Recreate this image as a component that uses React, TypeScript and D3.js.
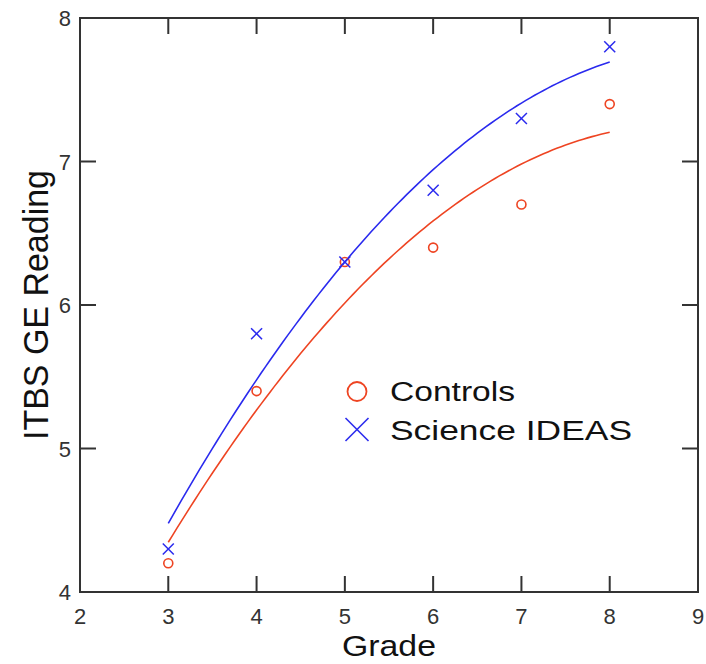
import React from "react";
import * as d3 from "d3";

const grades = [3, 4, 5, 6, 7, 8];
const controls = [4.2, 5.4, 6.3, 6.4, 6.7, 7.4];
const scienceIdeas = [4.3, 5.8, 6.3, 6.8, 7.3, 7.8];
const xTicks = [2, 3, 4, 5, 6, 7, 8, 9];
const yTicks = [4, 5, 6, 7, 8];
const seriesNames = ["Controls", "Science IDEAS"];

const W = 706;
const H = 664;
const RED = "#ee4422";
const BLUE = "#2a2aee";
const FRAME = "#333";
const FONT = "'Liberation Sans', Arial, Helvetica, sans-serif";

// least-squares quadratic fit y = a + b x + c x^2
function quadFit(xs: number[], ys: number[]) {
  const n = xs.length;
  let s1 = 0, s2 = 0, s3 = 0, s4 = 0, sy = 0, sxy = 0, sx2y = 0;
  for (let i = 0; i < n; i++) {
    const x = xs[i], y = ys[i];
    s1 += x; s2 += x * x; s3 += x ** 3; s4 += x ** 4;
    sy += y; sxy += x * y; sx2y += x * x * y;
  }
  const M = [
    [n, s1, s2, sy],
    [s1, s2, s3, sxy],
    [s2, s3, s4, sx2y],
  ];
  for (let i = 0; i < 3; i++) {
    for (let k = i + 1; k < 3; k++) {
      const f = M[k][i] / M[i][i];
      for (let j = i; j < 4; j++) M[k][j] -= f * M[i][j];
    }
  }
  const r = [0, 0, 0];
  for (let i = 2; i >= 0; i--) {
    let s = M[i][3];
    for (let j = i + 1; j < 3; j++) s -= M[i][j] * r[j];
    r[i] = s / M[i][i];
  }
  return (x: number) => r[0] + r[1] * x + r[2] * x * x;
}

export default function App() {
  const x = d3.scaleLinear().domain([2, 9]).range([80, 698]);
  const y = d3.scaleLinear().domain([4, 8]).range([592, 18]);
  const tickLen = 16;

  const fitC = quadFit(grades, controls);
  const fitS = quadFit(grades, scienceIdeas);
  const xs = d3.range(0, 101).map((i) => 3 + (5 * i) / 100);
  const pathC = d3.line<number>().x((d) => x(d)).y((d) => y(fitC(d)))(xs) || "";
  const pathS = d3.line<number>().x((d) => x(d)).y((d) => y(fitS(d)))(xs) || "";

  const innerX = xTicks.filter((t) => t > 2 && t < 9);
  const innerY = yTicks.filter((t) => t > 4 && t < 8);

  const cross = (cx: number, cy: number, s: number, color: string, w: number, key?: string) => (
    <g key={key} stroke={color} strokeWidth={w}>
      <line x1={cx - s} y1={cy - s} x2={cx + s} y2={cy + s} />
      <line x1={cx - s} y1={cy + s} x2={cx + s} y2={cy - s} />
    </g>
  );

  return (
    <svg
      width={W}
      height={H}
      style={{ position: "absolute", left: 0, top: 0, background: "#fff" }}
      fontFamily={FONT}
    >
      <rect width={W} height={H} fill="#fff" />
      {/* frame */}
      <rect
        x={x(2)}
        y={y(8)}
        width={x(9) - x(2)}
        height={y(4) - y(8)}
        fill="none"
        stroke={FRAME}
        strokeWidth={2}
      />
      {/* ticks */}
      {innerX.map((t) => (
        <g key={"xt" + t} stroke={FRAME} strokeWidth={2}>
          <line x1={x(t)} x2={x(t)} y1={y(4)} y2={y(4) - tickLen} />
          <line x1={x(t)} x2={x(t)} y1={y(8)} y2={y(8) + tickLen} />
        </g>
      ))}
      {innerY.map((t) => (
        <g key={"yt" + t} stroke={FRAME} strokeWidth={2}>
          <line x1={x(2)} x2={x(2) + tickLen} y1={y(t)} y2={y(t)} />
          <line x1={x(9)} x2={x(9) - tickLen} y1={y(t)} y2={y(t)} />
        </g>
      ))}
      {/* tick labels */}
      {xTicks.map((t) => (
        <text key={"xl" + t} x={x(t)} y={624} textAnchor="middle" fontSize={22} fill="#333">
          {t}
        </text>
      ))}
      {yTicks.map((t) => (
        <text key={"yl" + t} x={71} y={y(t) + 8} textAnchor="end" fontSize={22} fill="#333">
          {t}
        </text>
      ))}
      {/* axis titles */}
      <text x={389} y={656} textAnchor="middle" fontSize={29} fill="#111" textLength={94} lengthAdjust="spacingAndGlyphs">
        Grade
      </text>
      <text
        transform={`translate(48,305) rotate(-90)`}
        textAnchor="middle"
        fontSize={35}
        fill="#111"
        textLength={270}
        lengthAdjust="spacingAndGlyphs"
      >
        ITBS GE Reading
      </text>
      {/* fit curves */}
      <path d={pathC} fill="none" stroke={RED} strokeWidth={1.6} />
      <path d={pathS} fill="none" stroke={BLUE} strokeWidth={1.6} />
      {/* points */}
      {grades.map((g, i) => (
        <circle key={"c" + i} cx={x(g)} cy={y(controls[i])} r={4.5} fill="none" stroke={RED} strokeWidth={1.6} />
      ))}
      {grades.map((g, i) => cross(x(g), y(scienceIdeas[i]), 5.5, BLUE, 1.5, "s" + i))}
      {/* legend */}
      <circle cx={357} cy={391.5} r={9.5} fill="none" stroke={RED} strokeWidth={1.8} />
      <text x={390} y={401} fontSize={27} fill="#111" textLength={125} lengthAdjust="spacingAndGlyphs">
        {seriesNames[0]}
      </text>
      {cross(357, 429.5, 11.5, BLUE, 1.6)}
      <text x={390} y={440} fontSize={28} fill="#111" textLength={242} lengthAdjust="spacingAndGlyphs">
        {seriesNames[1]}
      </text>
    </svg>
  );
}
